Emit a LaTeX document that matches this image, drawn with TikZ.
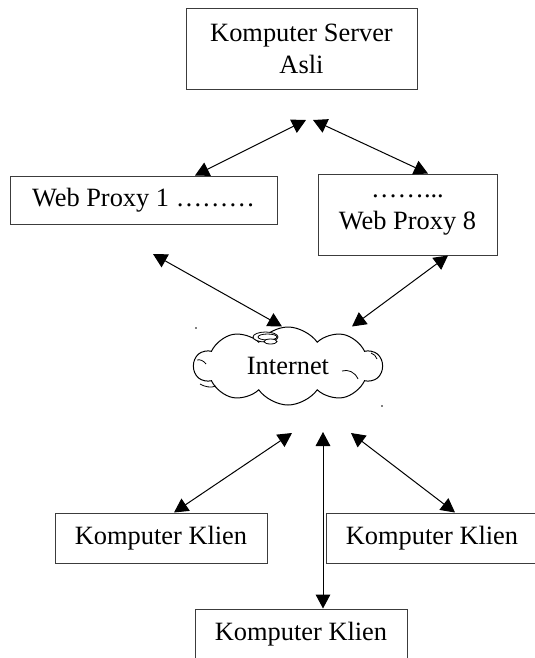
\documentclass[tikz,border=0pt]{standalone}
\usepackage{fontspec}
\setmainfont{Liberation Serif}
\usetikzlibrary{arrows.meta,shapes.symbols}

\tikzset{every picture/.style={line width=0.75pt}}
\tikzset{
	kotak/.style={draw={rgb, 255:red, 60; green, 60; blue, 60 }, line width=0.75pt, inner sep=2pt, align=center},
	panah/.style={<->, >={Triangle[length=10.5pt,width=11pt]}},
	huruf/.style={font=\fontsize{19.8pt}{24pt}\selectfont}}

\begin{document}
\begin{tikzpicture}[x=0.75pt,y=0.75pt,yscale=-1,xscale=1, every node/.style={huruf}]
	\useasboundingbox (0,0) rectangle (535,658);
	\clip (0,0) rectangle (535,658);

	%Shape: Rectangle
	\node [kotak, minimum width=173.25pt, minimum height=60.75pt] (server) at (301.5,48.5) {Komputer Server\\Asli};
	%Shape: Rectangle
	\node [kotak, minimum width=200.25pt, minimum height=36pt] (proksi1) at (143.5,200) {Web Proxy 1 ………};
	%Shape: Rectangle
	\node [kotak, minimum width=134.25pt, minimum height=60.75pt] (proksi8) at (407.5,214.5) {……...\\Web Proxy 8};
	%Shape: Cloud
	\node [draw, cloud, cloud puffs=10, cloud puff arc=110, cloud ignores aspect, inner sep=1pt, minimum width=141pt, minimum height=58.5pt] (internet) at (288,366) {Internet};
	%Shape: Rectangle
	\node [kotak, minimum width=159pt, minimum height=37.5pt] (klien1) at (161,538) {Komputer Klien};
	%Shape: Rectangle
	\node [kotak, minimum width=159pt, minimum height=37.5pt] (klien2) at (432,538) {Komputer Klien};
	%Shape: Rectangle
	\node [kotak, minimum width=159pt, minimum height=37.5pt] (klien3) at (301,634) {Komputer Klien};

	%Shape: Ellipse
	\draw [line width=0.6pt, fill=white] (265.5,337) ellipse (12.5 and 5);
	\draw [line width=0.6pt] (267.5,337) ellipse (9.5 and 3);
	\draw [line width=0.6pt, fill=white] (270.5,341.5) ellipse (6.5 and 2.5);
	%Curve Lines
	\draw [line width=0.6pt] (197,360) .. controls (200,359) and (204,361) .. (206,364);
	\draw [line width=0.6pt] (200,384) .. controls (205,387) and (211,388) .. (216,386);
	\draw [line width=0.6pt] (342,371) .. controls (348,369) and (355,372) .. (358,379);
	\draw [line width=0.6pt] (371,353) .. controls (374,354) and (376,356) .. (377,359);
	% dots
	\fill (196,328) circle (0.8);
	\fill (382,406) circle (0.8);

	% free ends
	\coordinate (ujung1) at (306,120);
	\coordinate (ujung2) at (313,120);
	\coordinate (ujung3) at (153,254);
	\coordinate (ujung4) at (292,433);
	\coordinate (ujung5) at (323,432);
	\coordinate (ujung6) at (351,433);

	%Straight Lines
	\draw [panah] (ujung1) -- (proksi1.north -| 195,0);
	\draw [panah] (ujung2) -- (proksi8.north -| 428,0);
	\draw [panah] (ujung3) -- (internet.north -| 282,0);
	\draw [panah] (proksi8.south -| 448,0) -- (internet.north -| 352,0);
	\draw [panah] (ujung4) -- (klien1.north -| 174,0);
	\draw [panah] (ujung5) -- (klien3.north -| 323,0);
	\draw [panah] (ujung6) -- (klien2.north -| 455,0);

\end{tikzpicture}
\end{document}
